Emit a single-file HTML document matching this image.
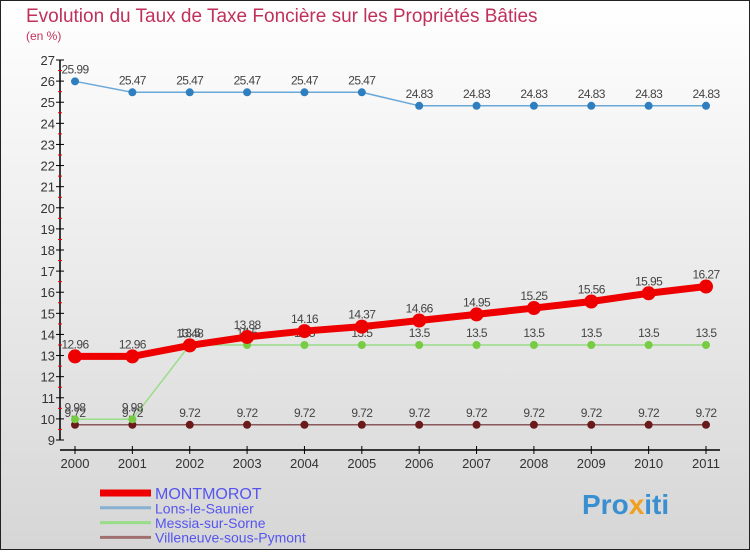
<!DOCTYPE html>
<html><head><meta charset="utf-8"><style>
body{margin:0;width:750px;height:550px;overflow:hidden;font-family:"Liberation Sans",sans-serif}
</style></head><body>
<svg width="750" height="550" xmlns="http://www.w3.org/2000/svg">
<defs><linearGradient id="bg" x1="0" y1="0" x2="0" y2="1"><stop offset="0" stop-color="#ffffff"/><stop offset="1" stop-color="#d6d6d6"/></linearGradient></defs>
<rect x="0.5" y="0.5" width="749" height="549" fill="url(#bg)" stroke="#222"/>
<text x="26" y="22" font-size="19" fill="#c0305a">Evolution du Taux de Taxe Foncière sur les Propriétés Bâties</text>
<text x="26" y="40" font-size="12" fill="#c0305a">(en %)</text>
<g id="axes"></g><g id="series"></g><g id="legend"></g>
<text x="582" y="514" font-size="28" font-weight="bold" fill="#3a8fd0">Pro<tspan fill="#f0a020">x</tspan>iti</text>
</svg>
<script>
const years=[2000,2001,2002,2003,2004,2005,2006,2007,2008,2009,2010,2011];
const yTicks=[9,10,11,12,13,14,15,16,17,18,19,20,21,22,23,24,25,26,27];
const montmorot=[12.96,12.96,13.48,13.88,14.16,14.37,14.66,14.95,15.25,15.56,15.95,16.27];
const lons=[25.99,25.47,25.47,25.47,25.47,25.47,24.83,24.83,24.83,24.83,24.83,24.83];
const messia=[9.98,9.98,13.5,13.5,13.5,13.5,13.5,13.5,13.5,13.5,13.5,13.5];
const villeneuve=[9.72,9.72,9.72,9.72,9.72,9.72,9.72,9.72,9.72,9.72,9.72,9.72];
const names=["MONTMOROT","Lons-le-Saunier","Messia-sur-Sorne","Villeneuve-sous-Pymont"];
const NS="http://www.w3.org/2000/svg";
const X=i=>75+i*(706-75)/11;
const Y=v=>440-(v-9)*(380/18);
function mk(tag,attrs,parent,txt){const e=document.createElementNS(NS,tag);for(const k in attrs)e.setAttribute(k,attrs[k]);if(txt!==undefined)e.textContent=txt;parent.appendChild(e);return e;}
const ax=document.getElementById('axes');
let yl=mk('line',{x1:60,y1:60,x2:60,y2:440,stroke:'#000','stroke-width':1.5},ax);


yTicks.forEach(v=>{
 mk('line',{x1:56,x2:64,y1:Y(v),y2:Y(v),stroke:'#000'},ax);
 if(v<27) mk('line',{x1:58,x2:62,y1:Y(v+0.5),y2:Y(v+0.5),stroke:'#e00'},ax);
 const t=mk('text',{x:55,y:Y(v)+5,'text-anchor':'end','font-size':13,fill:'#333'},ax,String(v));
 
 
});
let xl=mk('line',{x1:60,y1:450,x2:720,y2:450,stroke:'#000','stroke-width':1.5},ax);


years.forEach((y,i)=>{
 mk('line',{x1:X(i),x2:X(i),y1:446,y2:454,stroke:'#000'},ax);
 const t=mk('text',{x:X(i),y:468,'text-anchor':'middle','font-size':13,fill:'#333'},ax,String(y));
 
 
});
const sg=document.getElementById('series');
function draw(data,color,dot,w,r,name){
 const g=mk('g',{},sg);
 
 
 mk('polyline',{points:data.map((v,i)=>X(i)+','+Y(v)).join(' '),fill:'none',stroke:color,'stroke-width':w},g);
 data.forEach((v,i)=>{
  const c=mk('circle',{cx:X(i),cy:Y(v),r:r,fill:dot},g);
  
  
  mk('text',{x:X(i),y:Y(v)-8,'text-anchor':'middle','font-size':12,fill:'#444','letter-spacing':'-0.6'},g,String(v));
 });
}
draw(villeneuve,'#8a5a5a','#6a1a1a',1.5,4,'villeneuve-series');
draw(messia,'#99dd88','#77cc44',1.5,4,'messia-series');
draw(lons,'#6aa8d8','#2f7fc0',1.5,4,'lons-series');
draw(montmorot,'#ee0000','#ee0000',7,7,'montmorot-series');
const lg=document.getElementById('legend');
const lc=['#ee0000','#88b0d0','#99dd88','#a07070'],lw=[7,3,3,3];
names.forEach((n,i)=>{
 const y=493+i*14.5;
 const g=mk('g',{},lg);
 
 
 mk('line',{x1:100,x2:151,y1:y+i*0.3,y2:y+i*0.3,stroke:lc[i],'stroke-width':lw[i]},g);
 mk('text',{x:155,y:y+6,'font-size':i==0?16:14,fill:'#5555ee'},g,n);
});
</script>
</body></html>
